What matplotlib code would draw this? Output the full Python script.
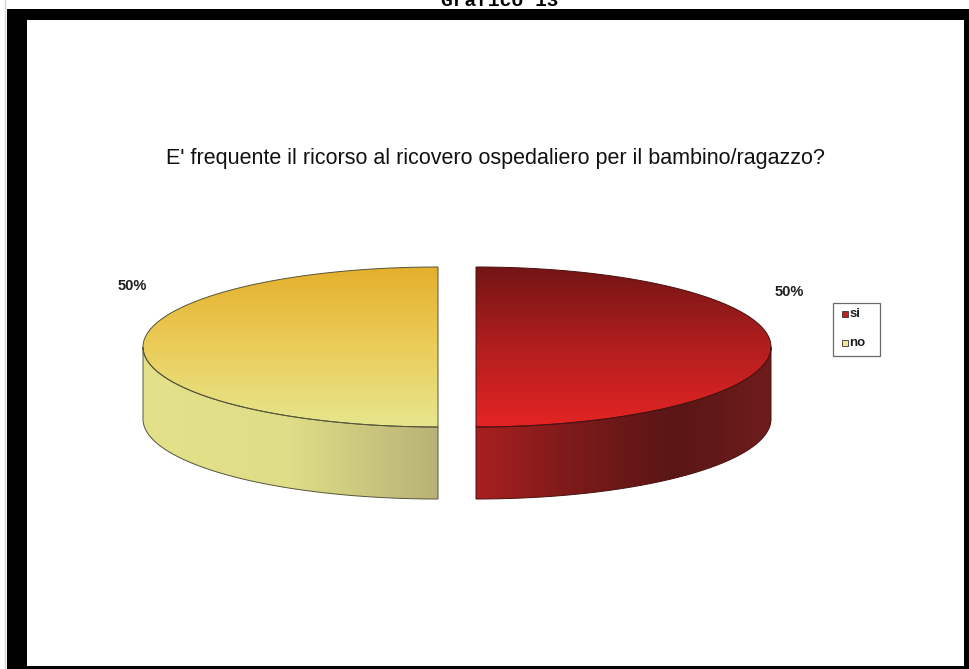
import numpy as np
import matplotlib
matplotlib.use("Agg")
import matplotlib.pyplot as plt
from matplotlib.patches import Polygon, Rectangle
from matplotlib.colors import LinearSegmentedColormap

# Data
# -----------------------------------------------------------------------------
title = "E' frequente il ricorso al ricovero ospedaliero per il bambino/ragazzo?"
caption = "Grafico 13"
labels = ["si", "no"]
values = [50, 50]

# Gradient stops for each slice: top face (vertical), side face (horizontal)
top_colors = {
    "si": ["#741515", "#b21e1e", "#e42424"],
    "no": ["#e4b02c", "#ebcd5a", "#e6e68e"],
}
side_colors = {
    "si": ["#a81f1f", "#7c1a1a", "#5a1616", "#6e1c1c"],
    "no": ["#e3e18a", "#dfdd87", "#b8b276"],
}
legend_colors = {"si": "#c41f1f", "no": "#f0e88e"}
edge_colors = {"si": "#4a1010", "no": "#55553a"}

# Geometry (pixels)
# -----------------------------------------------------------------------------
W, H = 969, 669
cx0, cy0 = 457, 347      # pie centre (top face)
a, b = 295, 80           # ellipse semi-axes
depth = 72               # pie thickness
explode = 19             # offset of each slice along its bisector


def gradient_fill(ax, xy, stops, vertical=True, edge=None):
    """ Fill a polygon with a linear gradient, clipped to its outline. """
    patch = Polygon(xy, closed=True, facecolor="none",
                    edgecolor=edge if edge else "none", linewidth=0.7, zorder=4)
    ax.add_patch(patch)
    cmap = LinearSegmentedColormap.from_list("g", stops)
    ramp = np.linspace(0, 1, 256)
    img = ramp.reshape(-1, 1) if vertical else ramp.reshape(1, -1)
    x0, x1 = xy[:, 0].min(), xy[:, 0].max()
    y0, y1 = xy[:, 1].min(), xy[:, 1].max()
    im = ax.imshow(img, cmap=cmap, extent=(x0, x1, y1, y0), aspect="auto",
                   interpolation="bilinear", zorder=3)
    im.set_clip_path(patch)
    return patch


fig = plt.figure(figsize=(W / 100, H / 100), dpi=100)
ax = fig.add_axes([0, 0, 1, 1])
ax.axis("off")

# Page frame
ax.add_patch(Rectangle((7, 9), W - 7, H - 9, facecolor="black", zorder=0))
ax.add_patch(Rectangle((27, 20), 964 - 27, 666 - 20, facecolor="white", zorder=1))
ax.plot([5.5, 5.5], [0, H], color="#d6d6d6", lw=1, zorder=1)
ax.text(500, 6.5, caption, ha="center", va="baseline", fontsize=14,
        fontweight="bold", family=["Liberation Mono", "DejaVu Sans Mono"], zorder=5)

# Title
ax.text(495, 164, title, ha="center", va="baseline", fontsize=15.5,
        family=["Liberation Sans Narrow", "Liberation Sans", "DejaVu Sans"],
        color="#111111", zorder=5)

# 3D pie, slices clockwise from 12 o'clock
total = float(sum(values))
theta = 90.0
label_pos = {"si": (789, 292), "no": (132, 286)}
for lab, v in zip(labels, values):
    sweep = 360.0 * v / total
    t1, t2 = theta - sweep, theta
    theta = t1
    mid = np.radians((t1 + t2) / 2)
    cx = cx0 + explode * np.cos(mid)
    cy = cy0 - explode * np.sin(mid) * b / a

    ts = np.radians(np.linspace(t1, t2, 400))
    rim = np.column_stack([cx + a * np.cos(ts), cy - b * np.sin(ts)])

    # Front wall: the part of the rim facing the viewer
    front = np.sin(ts) <= 1e-9
    if front.sum() > 1:
        arc = rim[front]
        side = np.vstack([arc, (arc + [0, depth])[::-1]])
        gradient_fill(ax, side, side_colors[lab], vertical=False,
                      edge=edge_colors[lab])

    top = np.vstack([rim, [[cx, cy]]])
    gradient_fill(ax, top, top_colors[lab], vertical=True, edge=edge_colors[lab])

    pct = "{:.0f}%".format(100 * v / total)
    ax.text(*label_pos[lab], pct, ha="center", va="center", fontsize=10.5,
            fontweight="bold", family=["Liberation Sans", "DejaVu Sans"],
            color="#1e1e1e", zorder=5)

# Legend
ax.add_patch(Rectangle((833, 303), 47, 53, facecolor="white",
                       edgecolor="#6a6a6a", linewidth=0.9, zorder=5))
for i, lab in enumerate(labels):
    yc = 314 + 29 * i
    ax.add_patch(Rectangle((842.5, yc - 3), 5.5, 6, facecolor=legend_colors[lab],
                           edgecolor="#333333", linewidth=0.6, zorder=6))
    ax.text(849.5, yc, lab, ha="left", va="center", fontsize=9.5,
            fontweight="bold", family=["Liberation Sans", "DejaVu Sans"],
            color="#1e1e1e", zorder=6)

ax.set_xlim(0, W)
ax.set_ylim(H, 0)
fig.savefig("out.png", dpi=100, facecolor="white")
